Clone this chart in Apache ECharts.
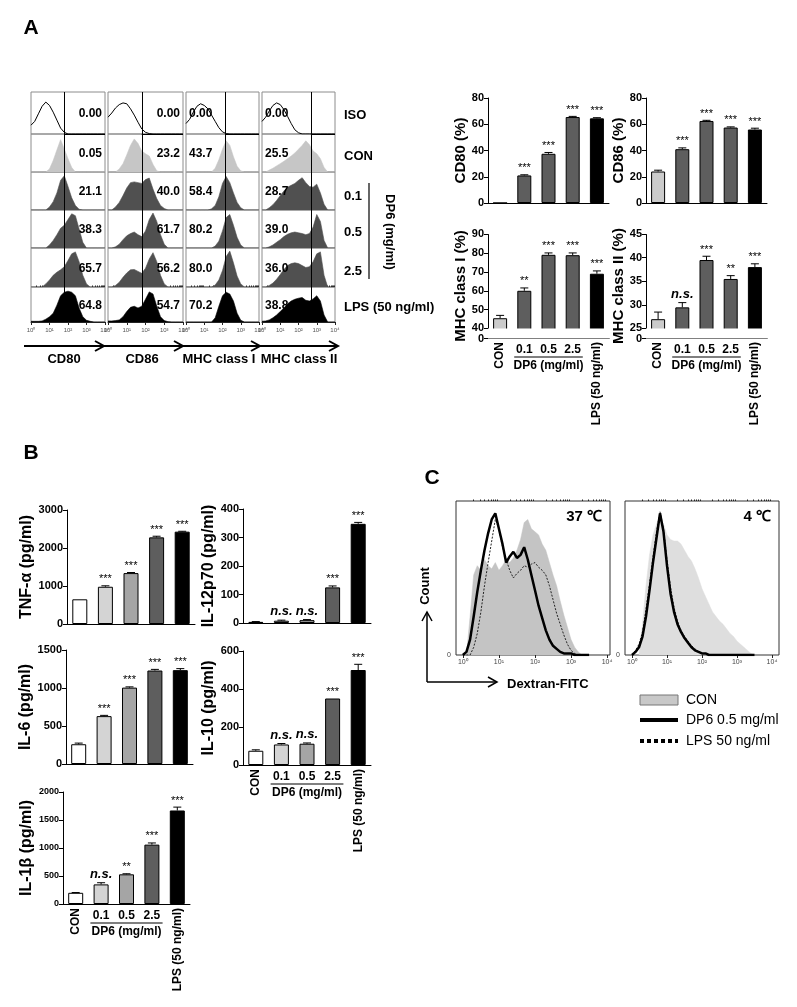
<!DOCTYPE html>
<html><head><meta charset="utf-8">
<script src="https://cdn.jsdelivr.net/npm/echarts@6.0.0/dist/echarts.min.js"></script>
<style>html,body{margin:0;padding:0;background:#fff;}#chart{width:797px;height:1007px;}</style>
</head><body><div id="chart"></div>
<script>
// ================= DATA =================
const GROUPS = ['CON', '0.1', '0.5', '2.5', 'LPS (50 ng/ml)'];

// Panel A bar charts (%)
const cd80Vals = [0, 21, 37.5, 65.5, 64.5];
const cd80Err  = [0, 0.5, 1, 0.5, 0.5];
const cd80Sig  = ['', '***', '***', '***', '***'];
const cd86Vals = [24, 41, 62.5, 57.5, 56];
const cd86Err  = [1, 1, 0.5, 0.5, 1];
const cd86Sig  = ['', '***', '***', '***', '***'];
const mhc1Vals = [45.5, 60, 79, 78.8, 69];
const mhc1Err  = [1.5, 1.5, 1, 1.2, 1.5];
const mhc1Sig  = ['', '**', '***', '***', '***'];
const mhc2Vals = [27, 29.5, 39.5, 35.5, 38];
const mhc2Err  = [1.5, 1, 0.8, 0.7, 0.7];
const mhc2Sig  = ['', 'n.s.', '***', '**', '***'];

// Panel B cytokines (pg/ml)
const tnfVals  = [650, 980, 1340, 2280, 2430];
const tnfErr   = [0, 25, 15, 30, 10];
const tnfSig   = ['', '***', '***', '***', '***'];
const il12Vals = [4, 8, 10, 125, 348];
const il12Err  = [1, 2, 2, 5, 5];
const il12Sig  = ['', 'n.s.', 'n.s.', '***', '***'];
const il6Vals  = [260, 630, 1005, 1230, 1235];
const il6Err   = [15, 10, 10, 15, 20];
const il6Sig   = ['', '***', '***', '***', '***'];
const il10Vals = [75, 108, 112, 350, 500];
const il10Err  = [5, 5, 4, 0, 30];
const il10Sig  = ['', 'n.s.', 'n.s.', '***', '***'];
const il1bVals = [200, 350, 530, 1060, 1670];
const il1bErr  = [5, 30, 10, 30, 60];
const il1bSig  = ['', 'n.s.', '**', '***', '***'];

// Panel A histograms: x in log10 decades, y = % of cell height
const HX = [0,0.2,0.4,0.6,0.8,1.0,1.2,1.4,1.6,1.8,2.0,2.2,2.4,2.6,2.8,3.0,3.2,3.4,3.6,3.8,4.0];
const cd80Iso = [21,30,48,66,76,68,52,33,14,4,0,0,0,0,0,0,0,0,0,0,0];
const cd80Con = [0,0,0,0,0,8,30,58,85,60,35,12,0,0,0,0,0,0,0,0,0];
const cd80D01 = [0,0,0,0,0,8,22,45,78,90,62,32,12,2,0,0,0,0,0,0,0];
const cd80D05 = [0,0,0,0,0,8,20,35,52,60,75,90,85,50,15,0,0,0,0,0,0];
const cd80D25 = [0,0,0,0,8,18,30,38,44,52,68,85,90,65,30,8,0,0,0,0,0];
const cd80Lps = [2,2,2,3,8,15,25,48,75,85,88,85,75,40,15,5,2,0,0,0,0];
const cd86Iso = [40,50,62,70,74,72,60,45,28,12,4,1,0,0,0,0,0,0,0,0,0];
const cd86Con = [0,0,0,8,22,45,70,87,75,55,48,42,20,3,0,0,0,0,0,0,0];
const cd86D01 = [0,0,8,20,38,58,72,74,72,70,80,84,55,30,12,4,0,0,0,0,0];
const cd86D05 = [0,0,3,10,22,32,38,42,35,30,45,75,92,70,35,10,0,0,0,0,0];
const cd86D25 = [0,0,4,12,25,36,44,45,40,35,48,72,88,65,30,8,0,0,0,0,0];
const cd86Lps = [3,3,4,6,15,30,42,45,40,45,65,86,80,45,15,4,1,0,0,0,0];
const mhc1Iso = [25,35,52,66,72,68,60,45,30,15,5,1,0,0,0,0,0,0,0,0,0];
const mhc1Con = [0,0,0,0,0,0,0,0,10,32,60,82,70,40,15,3,0,0,0,0,0];
const mhc1D01 = [0,0,0,0,0,0,0,3,12,35,70,88,72,45,20,6,0,0,0,0,0];
const mhc1D05 = [0,0,0,0,0,0,0,0,5,18,45,80,88,60,28,8,0,0,0,0,0];
const mhc1D25 = [0,0,0,0,0,0,0,0,5,18,42,78,92,62,28,8,0,0,0,0,0];
const mhc1Lps = [0,0,0,0,0,0,0,0,12,45,75,85,80,60,25,5,0,0,0,0,0];
const mhc2Iso = [30,40,55,68,74,70,58,42,25,10,3,0,0,0,0,0,0,0,0,0,0];
const mhc2Con = [0,0,5,10,16,22,28,35,42,50,60,70,82,72,55,48,35,12,0,0,0];
const mhc2D01 = [0,0,6,14,25,38,50,60,65,70,78,85,72,62,60,68,45,15,0,0,0];
const mhc2D05 = [0,0,3,8,15,22,30,36,40,42,40,38,35,38,55,88,70,20,0,0,0];
const mhc2D25 = [0,0,4,10,20,32,45,55,60,62,60,55,50,52,65,85,90,30,0,0,0];
const mhc2Lps = [2,3,6,12,20,30,40,52,60,65,68,70,62,60,66,75,60,20,0,0,0];

const histRows = ['ISO', 'CON', '0.1', '0.5', '2.5', 'LPS (50 ng/ml)'];
const histMarkers = ['CD80', 'CD86', 'MHC class I', 'MHC class II'];
const histGates = [1.8, 1.8, 2.15, 2.68];
const cd80Pct = ['0.00', '0.05', '21.1', '38.3', '65.7', '64.8'];
const cd86Pct = ['0.00', '23.2', '40.0', '61.7', '56.2', '54.7'];
const mhc1Pct = ['0.00', '43.7', '58.4', '80.2', '80.0', '70.2'];
const mhc2Pct = ['0.00', '25.5', '28.7', '39.0', '36.0', '38.8'];

// Panel C dextran-FITC uptake histograms
const CX = [0.0,0.1,0.2,0.3,0.4,0.5,0.6,0.7,0.8,0.9,1.0,1.1,1.2,1.3,1.4,1.5,1.6,1.7,1.8,1.9,2.0,2.1,2.2,2.3,2.4,2.5,2.6,2.7,2.8,2.9,3.0,3.1,3.2,3.3,3.4,3.5];
const con37 = [0,0,25,52,58,55,62,58,56,60,55,58,62,60,63,68,75,86,88,82,80,78,72,68,60,52,45,35,26,18,10,5,2,0,0,0];
const dp637 = [0,2,10,25,41,55,68,79,88,92,82,72,60,64,67,63,65,70,62,52,42,32,24,16,10,6,4,2,1,1,1,0,0,0,0,0];
const lps37 = [0,0,0,5,14,28,45,60,74,88,82,70,62,55,50,53,55,58,57,59,60,57,55,52,45,36,27,20,13,7,3,1,0,0,0,0];
const con4  = [0,0,0,20,45,65,78,85,90,85,78,75,74,74,72,68,64,61,56,50,43,38,33,28,25,22,20,17,14,12,9,7,5,3,1,0];
const dp64  = [0,2,5,12,25,42,60,76,92,80,58,40,28,20,15,11,8,5,3,2,1,1,0,0,0,0,0,0,0,0,0,0,0,0,0,0];
const lps4  = [0,3,7,15,30,46,64,80,93,82,62,44,31,22,16,12,9,6,4,2,1,1,0,0,0,0,0,0,0,0,0,0,0,0,0,0];
const legendC = ['CON', 'DP6 0.5 mg/ml', 'LPS 50 ng/ml'];

// ================= BUILD =================
const FONT = 'Arial, "Liberation Sans", Helvetica, sans-serif';
const SUP = ['\u2070', '\u00b9', '\u00b2', '\u00b3', '\u2074'];
const MINOR = [];
for (let d = 0; d < 4; d++) for (let m = 2; m <= 9; m++) MINOR.push(d + Math.log10(m));

const grids = [], xAxes = [], yAxes = [], series = [], graphics = [];

function txt(x, y, text, font, opt) {
  opt = opt || {};
  graphics.push({
    type: 'text', x: x, y: y, rotation: opt.rot || 0, z: 100,
    style: { text: text, font: font, fill: opt.fill || '#000', align: opt.align || 'center', verticalAlign: opt.va || 'middle' }
  });
}
function line(x1, y1, x2, y2, w, opt) {
  opt = opt || {};
  graphics.push({ type: 'line', z: 100, shape: { x1, y1, x2, y2 },
    style: { stroke: opt.stroke || '#000', lineWidth: w, lineDash: opt.dash || null } });
}
function poly(points, w) {
  graphics.push({ type: 'polyline', z: 100, shape: { points }, style: { stroke: '#000', lineWidth: w, fill: null } });
}

// ---------- Panel A histograms ----------
const HCOL_L = [31, 108, 186, 262], HCOL_W = [74, 75, 73, 73];
const HROW_T = [92, 134, 172, 210, 248, 287, 322];
const HDATA = [
  [cd80Iso, cd80Con, cd80D01, cd80D05, cd80D25, cd80Lps],
  [cd86Iso, cd86Con, cd86D01, cd86D05, cd86D25, cd86Lps],
  [mhc1Iso, mhc1Con, mhc1D01, mhc1D05, mhc1D25, mhc1Lps],
  [mhc2Iso, mhc2Con, mhc2D01, mhc2D05, mhc2D25, mhc2Lps]
];
const HPCT = [cd80Pct, cd86Pct, mhc1Pct, mhc2Pct];
const ROWFILL = [null, '#c6c6c6', '#505050', '#505050', '#505050', '#000000'];

for (let c = 0; c < 4; c++) {
  for (let r = 0; r < 6; r++) {
    const gi = grids.length;
    const h = HROW_T[r + 1] - HROW_T[r];
    grids.push({ left: HCOL_L[c], top: HROW_T[r], width: HCOL_W[c], height: h, show: true,
      borderColor: '#8c8c8c', borderWidth: 1, backgroundColor: 'transparent' });
    const last = r === 5;
    const xi = xAxes.length;
    xAxes.push({ gridIndex: gi, type: 'value', min: 0, max: 4,
      axisLine: { show: last, lineStyle: { color: '#222', width: 1 } },
      axisTick: { show: last, customValues: [0, 1, 2, 3, 4], length: 3, lineStyle: { color: '#222' } },
      axisLabel: { show: last, customValues: [0, 1, 2, 3, 4], formatter: v => '10' + SUP[Math.round(v)],
        fontSize: 6, color: '#555', margin: 5, fontFamily: FONT },
      splitLine: { show: false } });
    if (last) {
      xAxes.push({ gridIndex: gi, type: 'value', min: 0, max: 4, axisLine: { show: false },
        axisTick: { show: true, customValues: MINOR, length: 1.5, lineStyle: { color: '#222' } },
        axisLabel: { show: false }, splitLine: { show: false } });
    }
    const yi = yAxes.length;
    yAxes.push({ gridIndex: gi, type: 'value', min: 0, max: 100, show: false, splitLine: { show: false } });
    const g = histGates[c];
    const ml = r === 0
      ? [[{ coord: [g, 100] }, { coord: [g, 0] }], [{ coord: [g, 0] }, { coord: [4, 0] }]]
      : [{ xAxis: g }];
    const ys = HDATA[c][r];
    series.push({
      type: 'line', xAxisIndex: xi, yAxisIndex: yi, showSymbol: false, silent: true,
      data: HX.map((x, i) => [x, ys[i]]),
      lineStyle: r === 0 ? { color: '#000', width: 1 } : { color: ROWFILL[r], width: 0.6 },
      areaStyle: r === 0 ? null : { color: ROWFILL[r], opacity: 1 },
      markLine: { silent: true, symbol: 'none', animation: false, label: { show: false },
        lineStyle: { color: '#000', width: 1, type: 'solid' }, data: ml }
    });
    const pt = HPCT[c][r];
    const cy = HROW_T[r] + h / 2 + 1;
    if (c < 2) txt(HCOL_L[c] + HCOL_W[c] - 3, cy, pt, 'bold 12px ' + FONT, { align: 'right' });
    else txt(HCOL_L[c] + 3, cy, pt, 'bold 12px ' + FONT, { align: 'left' });
  }
}
// row labels
const rowLabelY = [115, 156, 196, 232, 271, 307];
histRows.forEach((t, i) => txt(344, rowLabelY[i], t, 'bold 13px ' + FONT, { align: 'left' }));
line(369, 183, 369, 279, 1.2);
txt(390, 232, 'DP6 (mg/ml)', 'bold 13px ' + FONT, { rot: -Math.PI / 2 });
// marker axis arrows
const arrowY = 346;
line(24, arrowY, 338, arrowY, 2);
[104, 183, 260, 338].forEach(x => poly([[x - 9, arrowY - 5], [x, arrowY], [x - 9, arrowY + 5]], 2));
const markerX = [64, 142, 219, 299];
histMarkers.forEach((t, i) => txt(markerX[i], 359, t, 'bold 13px ' + FONT));

// ---------- bar charts ----------
function barChart(cfg) {
  const gi = grids.length;
  grids.push({ left: cfg.left, top: cfg.top, width: cfg.width, height: cfg.height });
  const xi = xAxes.length;
  const lblFont = { fontSize: cfg.xf || 12, fontWeight: 'bold', color: '#000', fontFamily: FONT };
  xAxes.push({ gridIndex: gi, type: 'category', data: GROUPS,
    axisLine: { show: true, lineStyle: { color: '#000', width: 1 } }, axisTick: { show: false },
    axisLabel: Object.assign({ show: !!cfg.showX, interval: 0, margin: 6,
      formatter: (v, i) => (i > 0 && i < 4) ? v : '' }, lblFont),
    splitLine: { show: false } });
  if (cfg.showX) {
    xAxes.push({ gridIndex: gi, type: 'category', data: GROUPS, position: 'bottom',
      axisLine: { show: false }, axisTick: { show: false },
      axisLabel: Object.assign({ interval: 0, rotate: 90, margin: 4,
        formatter: (v, i) => (i === 0 || i === 4) ? v : '' }, lblFont),
      splitLine: { show: false } });
  }
  const yi = yAxes.length;
  const step = cfg.interval;
  const ya = { gridIndex: gi, type: 'value', min: cfg.min, max: cfg.max, interval: step,
    name: cfg.yName, nameLocation: 'middle', nameGap: cfg.nameGap, nameRotate: 90,
    nameTextStyle: { fontSize: cfg.nf || 15, fontWeight: 'bold', color: '#000', fontFamily: FONT },
    axisLine: { show: true, lineStyle: { color: '#000', width: 1 } },
    axisTick: { show: true, length: 4, lineStyle: { color: '#000' } },
    axisLabel: { fontSize: cfg.yf || 11, fontWeight: 'bold', color: '#000', margin: 4, fontFamily: FONT,
      formatter: v => (Math.abs(v / step - Math.round(v / step)) < 1e-6) ? String(v) : '' },
    splitLine: { show: false } };
  if (cfg.breaks) {
    ya.breaks = cfg.breaks;
    ya.breakArea = { show: true, itemStyle: { color: '#fff', borderColor: '#fff', borderWidth: 0, opacity: 1 },
      zigzagAmplitude: 0, expandOnClick: false };
  }
  yAxes.push(ya);
  series.push({ type: 'bar', xAxisIndex: xi, yAxisIndex: yi, barWidth: cfg.bw || 15, silent: true,
    data: cfg.vals.map((v, i) => ({ value: v,
      itemStyle: { color: cfg.colors[i], borderColor: '#000', borderWidth: 1 } })) });
  const sigs = cfg.sigs;
  series.push({ type: 'custom', xAxisIndex: xi, yAxisIndex: yi, silent: true, z: 5,
    data: cfg.vals.map((v, i) => [i, v, cfg.errs[i]]),
    renderItem: (params, api) => {
      const i = api.value(0), v = api.value(1), e = api.value(2);
      const p0 = api.coord([i, v]), p1 = api.coord([i, v + e]);
      const ch = [];
      if (e > 0) {
        ch.push({ type: 'line', shape: { x1: p0[0], y1: p0[1], x2: p1[0], y2: p1[1] }, style: { stroke: '#000', lineWidth: 1 } });
        ch.push({ type: 'line', shape: { x1: p1[0] - 4, y1: p1[1], x2: p1[0] + 4, y2: p1[1] }, style: { stroke: '#000', lineWidth: 1 } });
      }
      const s = sigs[params.dataIndex];
      if (s) {
        const ns = s === 'n.s.';
        ch.push({ type: 'text', x: p1[0], y: p1[1] - (ns ? 2 : 1),
          style: { text: s, fill: '#000', align: 'center', verticalAlign: 'bottom',
            font: ns ? 'italic bold 13px ' + FONT : (cfg.sf || 11) + 'px ' + FONT } });
      }
      return { type: 'group', children: ch };
    } });
  if (cfg.showX) {
    const slot = cfg.width / 5;
    const yb = cfg.top + cfg.height;
    line(cfg.left + slot + 2, yb + 19, cfg.left + slot * 4 - 2, yb + 19, 1.2);
    txt(cfg.left + slot * 2.5, yb + 28, 'DP6 (mg/ml)', 'bold 12px ' + FONT);
  }
}

const colA = ['#cbcbcb', '#5e5e5e', '#5e5e5e', '#5e5e5e', '#000000'];
const colB = ['#ffffff', '#d4d4d4', '#a5a5a5', '#5e5e5e', '#000000'];

barChart({ left: 488, top: 98, width: 121, height: 105, min: 0, max: 80, interval: 20,
  vals: cd80Vals, errs: cd80Err, sigs: cd80Sig, colors: colA, yName: 'CD80 (%)', nameGap: 16, bw: 14 });
barChart({ left: 646, top: 98, width: 121, height: 105, min: 0, max: 80, interval: 20,
  vals: cd86Vals, errs: cd86Err, sigs: cd86Sig, colors: colA, yName: 'CD86 (%)', nameGap: 16, bw: 14 });
barChart({ left: 488, top: 234, width: 121, height: 104, min: 0, max: 90, interval: 10,
  breaks: [{ start: 0, end: 40, gap: '9%' }],
  vals: mhc1Vals, errs: mhc1Err, sigs: mhc1Sig, colors: colA, yName: 'MHC class I (%)', nameGap: 16, bw: 14, showX: true });
barChart({ left: 646, top: 234, width: 121, height: 104, min: 0, max: 45, interval: 5,
  breaks: [{ start: 0, end: 25, gap: '9%' }],
  vals: mhc2Vals, errs: mhc2Err, sigs: mhc2Sig, colors: colA, yName: 'MHC class II (%)', nameGap: 16, bw: 14, showX: true });

barChart({ left: 67, top: 510, width: 128, height: 114, min: 0, max: 3000, interval: 1000,
  vals: tnfVals, errs: tnfErr, sigs: tnfSig, colors: colB, yName: 'TNF-\u03b1 (pg/ml)', nameGap: 30, nf: 16 });
barChart({ left: 243, top: 509, width: 128, height: 114, min: 0, max: 400, interval: 100,
  vals: il12Vals, errs: il12Err, sigs: il12Sig, colors: colB, yName: 'IL-12p70 (pg/ml)', nameGap: 24, nf: 16 });
barChart({ left: 66, top: 650, width: 127, height: 114, min: 0, max: 1500, interval: 500,
  vals: il6Vals, errs: il6Err, sigs: il6Sig, colors: colB, yName: 'IL-6 (pg/ml)', nameGap: 30, nf: 16 });
barChart({ left: 243, top: 651, width: 128, height: 114, min: 0, max: 600, interval: 200,
  vals: il10Vals, errs: il10Err, sigs: il10Sig, colors: colB, yName: 'IL-10 (pg/ml)', nameGap: 24, nf: 16, showX: true });
barChart({ left: 63, top: 792, width: 127, height: 112, min: 0, max: 2000, interval: 500,
  vals: il1bVals, errs: il1bErr, sigs: il1bSig, colors: colB, yName: 'IL-1\u03b2 (pg/ml)', nameGap: 22, nf: 16, yf: 9, showX: true });

// ---------- Panel C ----------
function flowBox(left, width, xmin, xmax, labs, con, dp6, lps, conColor) {
  const gi = grids.length;
  grids.push({ left: left, top: 501, width: width, height: 154, show: true, borderColor: '#333', borderWidth: 1, backgroundColor: 'transparent' });
  const xi = xAxes.length;
  xAxes.push({ gridIndex: gi, type: 'value', min: xmin, max: xmax,
    axisLine: { show: false },
    axisTick: { show: true, customValues: labs, length: 3, lineStyle: { color: '#222' } },
    axisLabel: { show: true, customValues: labs, formatter: v => '10' + SUP[Math.round(v)], fontSize: 7, color: '#444', margin: 4, fontFamily: FONT },
    splitLine: { show: false } });
  xAxes.push({ gridIndex: gi, type: 'value', min: xmin, max: xmax, axisLine: { show: false },
    axisTick: { show: true, customValues: MINOR.filter(m => m < xmax), length: 1.5, lineStyle: { color: '#222' } },
    axisLabel: { show: false }, splitLine: { show: false } });
  const yi = yAxes.length;
  yAxes.push({ gridIndex: gi, type: 'value', min: 0, max: 100, axisLine: { show: false }, axisTick: { show: false },
    axisLabel: { show: true, customValues: [0], fontSize: 7, color: '#444', margin: 5, fontFamily: FONT },
    splitLine: { show: false } });
  series.push({ name: legendC[0], type: 'line', xAxisIndex: xi, yAxisIndex: yi, showSymbol: false, silent: true,
    data: CX.map((x, i) => [x, con[i]]), lineStyle: { color: conColor, width: 0.5 }, areaStyle: { color: conColor, opacity: 1 }, z: 1 });
  series.push({ name: legendC[2], type: 'line', xAxisIndex: xi, yAxisIndex: yi, showSymbol: false, silent: true,
    data: CX.map((x, i) => [x, lps[i]]), lineStyle: { color: '#222', width: 1, type: [2, 1.5] }, z: 2 });
  series.push({ name: legendC[1], type: 'line', xAxisIndex: xi, yAxisIndex: yi, showSymbol: false, silent: true,
    data: CX.map((x, i) => [x, dp6[i]]), lineStyle: { color: '#000', width: 2.5 }, z: 3 });
}
flowBox(456, 154, -0.19, 4.08, [0, 1, 2, 3, 4], con37, dp637, lps37, '#c4c4c4');
flowBox(625, 154, -0.2, 4.2, [0, 1, 2, 3, 4], con4, dp64, lps4, '#dedede');
txt(602, 517, '37 \u2103', 'bold 15px ' + FONT, { align: 'right' });
txt(771, 517, '4 \u2103', 'bold 15px ' + FONT, { align: 'right' });
// axis arrows
line(427, 682, 427, 612, 1.5);
poly([[422, 621], [427, 612], [432, 621]], 1.5);
txt(425, 586, 'Count', 'bold 13px ' + FONT, { rot: Math.PI / 2 });
line(427, 682, 497, 682, 1.5);
poly([[488, 677], [497, 682], [488, 687]], 1.5);
txt(507, 684, 'Dextran-FITC', 'bold 13px ' + FONT, { align: 'left' });
// legend
graphics.push({ type: 'rect', z: 100, shape: { x: 640, y: 695, width: 38, height: 10 }, style: { fill: '#c8c8c8', stroke: '#777', lineWidth: 1 } });
txt(686, 700, legendC[0], '14px ' + FONT, { align: 'left' });
line(640, 720, 678, 720, 4);
txt(686, 720, legendC[1], '14px ' + FONT, { align: 'left' });
line(640, 741, 678, 741, 4, { dash: [4, 3] });
txt(686, 741, legendC[2], '14px ' + FONT, { align: 'left' });

// panel letters
txt(31, 28, 'A', 'bold 21px ' + FONT);
txt(31, 453, 'B', 'bold 21px ' + FONT);
txt(432, 478, 'C', 'bold 21px ' + FONT);

const chart = echarts.init(document.getElementById('chart'), null, { renderer: 'canvas' });
chart.setOption({
  backgroundColor: '#fff', animation: false,
  grid: grids, xAxis: xAxes, yAxis: yAxes, series: series, graphic: graphics
});
</script></body></html>
